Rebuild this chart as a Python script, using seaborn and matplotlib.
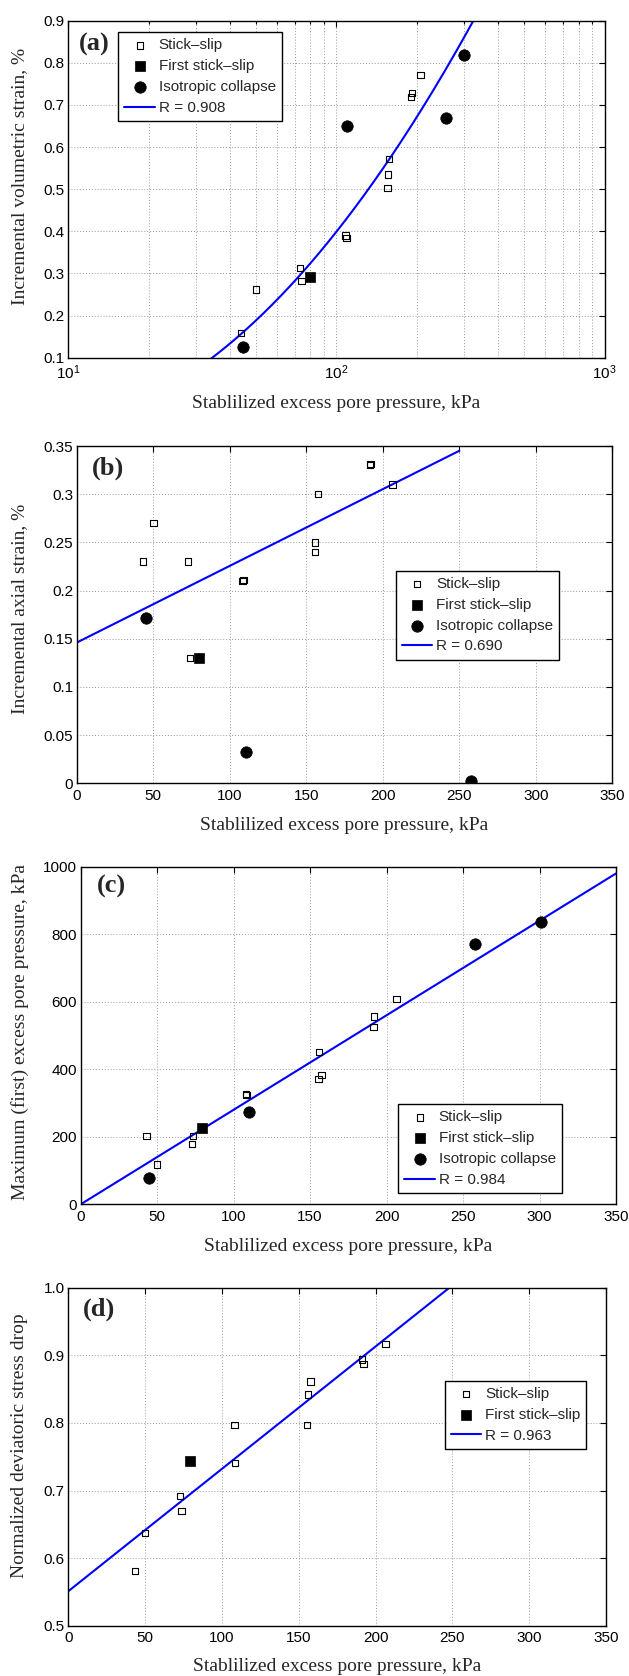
import numpy as np
import matplotlib
matplotlib.use("Agg")
import matplotlib.pyplot as plt
import seaborn as sns
from matplotlib.ticker import FixedLocator, FormatStrFormatter, LogLocator, NullFormatter

# ---------------- data ----------------
# (a) incremental volumetric strain, % (log x axis)
a_stick_x = [44, 50, 73, 74, 108, 109, 157, 156, 155, 191, 190, 206]
a_stick_y = [0.159, 0.262, 0.313, 0.282, 0.390, 0.384, 0.571, 0.535, 0.503, 0.729, 0.719, 0.771]
a_first_x = [79.5]
a_first_y = [0.291]
a_coll_x = [45, 110, 257, 300]
a_coll_y = [0.125, 0.651, 0.669, 0.818]
a_fit_coef = [0.399, 0.805, 0.344]   # y = c0 + c1*u + c2*u^2, u = log10(x) - 2
a_fit_range = [30, 420]
a_fit_label = "R = 0.908"

# (b) incremental axial strain, %
b_stick_x = [43.5, 50.3, 72.8, 73.9, 108.3, 108.9, 155.9, 155.6, 157.7, 191.5, 192.0, 206.4]
b_stick_y = [0.230, 0.270, 0.230, 0.130, 0.210, 0.211, 0.250, 0.240, 0.300, 0.330, 0.331, 0.310]
b_first_x = [79.6]
b_first_y = [0.130]
b_coll_x = [45.3, 110.6, 257.8]
b_coll_y = [0.1715, 0.0325, 0.0024]
b_fit = [0.146, 0.000796]            # intercept, slope
b_fit_range = [0, 250]
b_fit_label = "R = 0.690"

# (c) maximum (first) excess pore pressure, kPa
c_stick_x = [43.1, 49.9, 72.7, 73.5, 108.0, 108.5, 155.7, 155.4, 157.5, 191.4, 191.9, 206.4]
c_stick_y = [203, 117.5, 178.7, 202, 326, 324, 451, 372, 383, 525, 556, 608]
c_first_x = [79.3]
c_first_y = [225]
c_coll_x = [44.9, 110.0, 257.6, 300.9]
c_coll_y = [78, 273.5, 771, 835]
c_fit = [0.0, 2.8]
c_fit_range = [0, 350]
c_fit_label = "R = 0.984"

# (d) normalized deviatoric stress drop
d_stick_x = [43.6, 50.1, 72.7, 73.7, 108.1, 108.6, 155.3, 156.1, 157.7, 191.3, 192.1, 206.5]
d_stick_y = [0.581, 0.637, 0.692, 0.670, 0.797, 0.741, 0.797, 0.842, 0.861, 0.894, 0.887, 0.917]
d_first_x = [79.2]
d_first_y = [0.744]
d_fit = [0.551, 0.00181]
d_fit_range = [0, 250]
d_fit_label = "R = 0.963"

series_names = ["Stick\u2013slip", "First stick\u2013slip", "Isotropic collapse"]
x_label = "Stablilized excess pore pressure, kPa"

# ---------------- style ----------------
sns.set_theme(style="white")
plt.rcParams.update({
    "font.family": ["Liberation Sans", "DejaVu Sans"],
    "mathtext.fontset": "custom",
    "mathtext.rm": "Liberation Sans",
    "mathtext.it": "Liberation Sans:italic",
    "axes.edgecolor": "black",
    "axes.linewidth": 1.0,
    "xtick.color": "black",
    "ytick.color": "black",
})

W, H = 629, 1676
fig = plt.figure(figsize=(W / 100, H / 100), dpi=100)


def axes_px(left, top, right, bottom):
    return fig.add_axes([left / W, 1 - bottom / H, (right - left) / W, (bottom - top) / H])


def style_axes(ax, ylabel, ylabel_y, xlabel_off, panel, panel_off):
    ax.tick_params(axis="both", which="both", direction="in", top=True, right=True,
                   labelsize=11, colors="black", width=0.8)
    ax.tick_params(axis="both", which="major", length=4)
    ax.tick_params(axis="both", which="minor", length=2.5)
    ax.tick_params(axis="x", pad=4)
    ax.tick_params(axis="y", pad=2.5)
    for lab in ax.get_xticklabels() + ax.get_yticklabels():
        lab.set_fontfamily(["Liberation Sans", "DejaVu Sans"])
    ax.set_xlabel(x_label, fontsize=14, family="Liberation Serif")
    ax.set_ylabel(ylabel, fontsize=14, family="Liberation Serif")
    bb = ax.get_position()
    ax.xaxis.set_label_coords(0.5, -xlabel_off / (bb.height * H))
    ax.xaxis.label.set_verticalalignment("center")
    ax.yaxis.set_label_coords(-(bb.x0 * W - 20) / (bb.width * W), ylabel_y)
    ax.yaxis.label.set_verticalalignment("center")
    for s in ax.spines.values():
        s.set_visible(True)
        s.set_color("black")
        s.set_linewidth(1.0)
    ax.annotate(panel, xy=(0, 1), xycoords="axes fraction", xytext=panel_off,
                textcoords="offset pixels", ha="left", va="center",
                fontsize=19, fontweight="bold", family="Liberation Serif")


def draw_points(ax, sx, sy, fx, fy, cx=None, cy=None):
    h = []
    h.append(sns.scatterplot(x=sx, y=sy, marker="s", s=21, facecolor="none",
                             edgecolor="black", linewidth=0.8, ax=ax, zorder=3,
                             legend=False).collections[-1])
    h.append(sns.scatterplot(x=fx, y=fy, marker="s", s=48, color="black",
                             edgecolor="black", linewidth=0.5, ax=ax, zorder=3,
                             legend=False).collections[-1])
    if cx is not None:
        h.append(sns.scatterplot(x=cx, y=cy, marker="o", s=68, color="black",
                                 edgecolor="black", linewidth=0.5, ax=ax, zorder=3,
                                 legend=False).collections[-1])
    return h


def draw_fit(ax, xs, ys):
    sns.lineplot(x=xs, y=ys, color="#0000ff", linewidth=1.5, ax=ax, zorder=2,
                 legend=False, sort=True, estimator=None)
    return ax.lines[-1]


def add_legend(ax, handles, labels, anchor):
    leg = ax.legend(handles, labels, loc="upper left", bbox_to_anchor=anchor,
                    borderaxespad=0, frameon=True, fancybox=False,
                    framealpha=1, edgecolor="black", handlelength=2.0,
                    handletextpad=0.25, labelspacing=0.45, borderpad=0.4,
                    prop={"family": ["Liberation Sans", "DejaVu Sans"], "size": 11})
    leg.get_frame().set_linewidth(1.0)
    leg.set_zorder(5)


def grid(ax, minor=False):
    ax.grid(True, which="major", linestyle=(0, (1, 2)), color="#999999", linewidth=0.7)
    if minor:
        ax.grid(True, which="minor", axis="x", linestyle=(0, (1, 2)), color="#999999",
                linewidth=0.7)
    ax.set_axisbelow(True)


lin_ticks = [0, 50, 100, 150, 200, 250, 300, 350]

# ---------------- (a) ----------------
ax = axes_px(68.3, 20.7, 604.5, 357.7)
ax.set_xscale("log")
ax.set_xlim(10, 1000)
ax.set_ylim(0.1, 0.9)
ax.xaxis.set_major_locator(LogLocator(base=10, numticks=5))
ax.xaxis.set_minor_locator(LogLocator(base=10, subs=np.arange(2, 10), numticks=20))
ax.xaxis.set_minor_formatter(NullFormatter())
ax.yaxis.set_major_locator(FixedLocator(np.round(np.arange(0.1, 0.91, 0.1), 2)))
ax.yaxis.set_major_formatter(FormatStrFormatter("%.1f"))
grid(ax, minor=True)
hs = draw_points(ax, a_stick_x, a_stick_y, a_first_x, a_first_y, a_coll_x, a_coll_y)
xa = np.geomspace(a_fit_range[0], a_fit_range[1], 200)
ua = np.log10(xa) - 2
line = draw_fit(ax, xa, a_fit_coef[0] + a_fit_coef[1] * ua + a_fit_coef[2] * ua ** 2)
ax.set_xlim(10, 1000)
ax.set_ylim(0.1, 0.9)
add_legend(ax, hs + [line], series_names + [a_fit_label],
           ((118.3 - 68.3) / 536.2, (357.7 - 32.3) / 337.0))
style_axes(ax, "Incremental volumetric strain, %", 0.537, 45.6, "(a)", (11, -24))

# ---------------- (b) ----------------
ax = axes_px(76.7, 446.0, 612.3, 783.3)
ax.set_xlim(0, 350)
ax.set_ylim(0, 0.35)
ax.xaxis.set_major_locator(FixedLocator(lin_ticks))
ax.yaxis.set_major_locator(FixedLocator(np.round(np.arange(0, 0.351, 0.05), 2)))
ax.yaxis.set_major_formatter(FormatStrFormatter("%g"))
grid(ax)
hs = draw_points(ax, b_stick_x, b_stick_y, b_first_x, b_first_y, b_coll_x, b_coll_y)
xb = np.array(b_fit_range, dtype=float)
line = draw_fit(ax, xb, b_fit[0] + b_fit[1] * xb)
ax.set_xlim(0, 350)
ax.set_ylim(0, 0.35)
add_legend(ax, hs + [line], series_names + [b_fit_label],
           ((395.6 - 76.7) / 535.6, (783.3 - 570.7) / 337.3))
style_axes(ax, "Incremental axial strain, %", 0.517, 41.7, "(b)", (15, -22))

# ---------------- (c) ----------------
ax = axes_px(80.7, 866.7, 616.0, 1204.3)
ax.set_xlim(0, 350)
ax.set_ylim(0, 1000)
ax.xaxis.set_major_locator(FixedLocator(lin_ticks))
ax.yaxis.set_major_locator(FixedLocator([0, 200, 400, 600, 800, 1000]))
grid(ax)
hs = draw_points(ax, c_stick_x, c_stick_y, c_first_x, c_first_y, c_coll_x, c_coll_y)
xc = np.array(c_fit_range, dtype=float)
line = draw_fit(ax, xc, c_fit[0] + c_fit[1] * xc)
ax.set_xlim(0, 350)
ax.set_ylim(0, 1000)
add_legend(ax, hs + [line], series_names + [c_fit_label],
           ((398.3 - 80.7) / 535.3, (1204.3 - 1104.3) / 337.6))
style_axes(ax, "Maximum (first) excess pore pressure, kPa", 0.509, 42.4, "(c)", (16, -20))

# ---------------- (d) ----------------
ax = axes_px(68.3, 1287.7, 606.0, 1625.7)
ax.set_xlim(0, 350)
ax.set_ylim(0.5, 1.0)
ax.xaxis.set_major_locator(FixedLocator(lin_ticks))
ax.yaxis.set_major_locator(FixedLocator(np.round(np.arange(0.5, 1.01, 0.1), 2)))
ax.yaxis.set_major_formatter(FormatStrFormatter("%.1f"))
grid(ax)
hs = draw_points(ax, d_stick_x, d_stick_y, d_first_x, d_first_y)
xd = np.array(d_fit_range, dtype=float)
line = draw_fit(ax, xd, d_fit[0] + d_fit[1] * xd)
ax.set_xlim(0, 350)
ax.set_ylim(0.5, 1.0)
add_legend(ax, hs + [line], series_names[:2] + [d_fit_label],
           ((444.6 - 68.3) / 537.7, (1625.7 - 1380.7) / 338.0))
style_axes(ax, "Normalized deviatoric stress drop", 0.532, 41.0, "(d)", (15, -22))

fig.savefig("out.png", dpi=100, facecolor="white")
